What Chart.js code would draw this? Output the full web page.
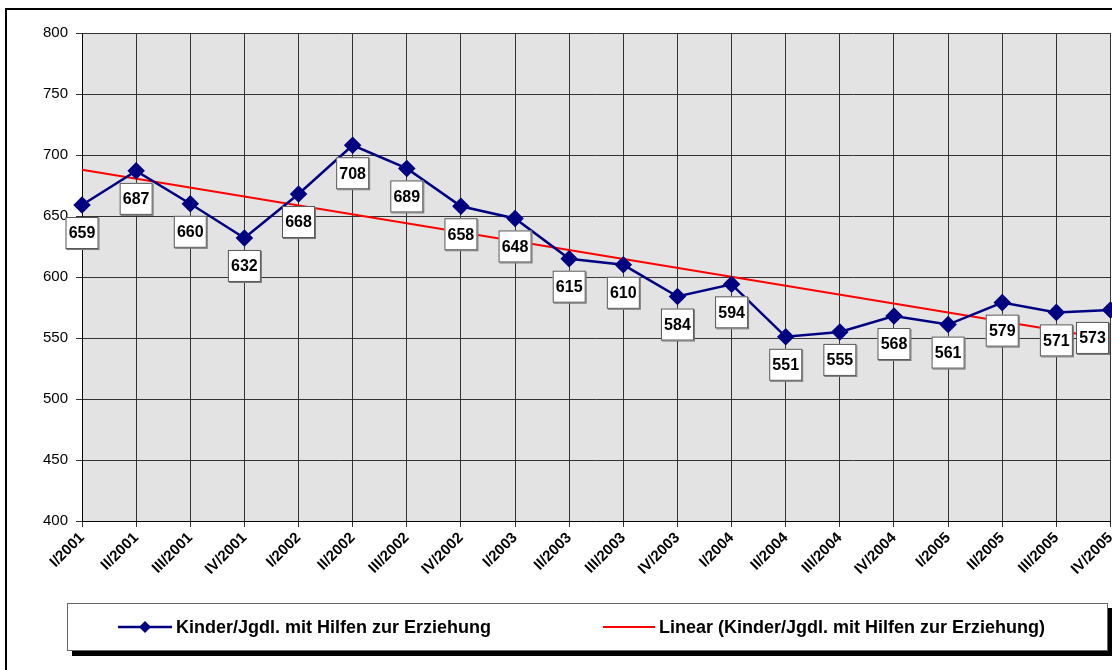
<!DOCTYPE html>
<html lang="de">
<head>
<meta charset="UTF-8" />
<title>Kinder/Jgdl. mit Hilfen zur Erziehung</title>
<style>
  body { margin: 0; background: #fff; overflow: hidden; }
  #wrap { width: 1112px; height: 670px; overflow: hidden; }
</style>
</head>
<body>
<div id="wrap"><canvas id="myChart" width="1120" height="670"></canvas></div>
<script src="https://cdn.jsdelivr.net/npm/chart.js"></script>
<script>
  // quarters
  const quarters = [
    "I/2001", "II/2001", "III/2001", "IV/2001",
    "I/2002", "II/2002", "III/2002", "IV/2002",
    "I/2003", "II/2003", "III/2003", "IV/2003",
    "I/2004", "II/2004", "III/2004", "IV/2004",
    "I/2005", "II/2005", "III/2005", "IV/2005"
  ];
  const kinder = [659, 687, 660, 632, 668, 708, 689, 658, 648, 615,
                  610, 584, 594, 551, 555, 568, 561, 579, 571, 573];
  // trend line, start and end value
  const trendStart = 688;
  const trendEnd = 549;
  const yTicks = [400, 450, 500, 550, 600, 650, 700, 750, 800];

  const seriesName = "Kinder/Jgdl. mit Hilfen zur Erziehung";
  const trendName = "Linear (Kinder/Jgdl. mit Hilfen zur Erziehung)";

  const trend = quarters.map((q, i) =>
    i === 0 ? trendStart : (i === quarters.length - 1 ? trendEnd : null));

  const FONT = "Arial, 'Liberation Sans', sans-serif";

  const frame = {
    id: "frame",
    beforeDraw(chart) {
      const c = chart.ctx, a = chart.chartArea;
      c.save();
      c.fillStyle = "#fff";
      c.fillRect(0, 0, chart.width, chart.height);
      c.strokeStyle = "#000";
      c.lineWidth = 2;
      c.strokeRect(6, 9, 1200, 700);
      c.fillStyle = "#e3e3e3";
      c.fillRect(a.left, a.top, a.right - a.left, a.bottom - a.top);
      c.restore();
    }
  };

  const valueLabels = {
    id: "valueLabels",
    afterDatasetsDraw(chart) {
      const c = chart.ctx, a = chart.chartArea;
      const meta = chart.getDatasetMeta(0);
      c.save();
      c.font = "bold 16px " + FONT;
      c.textAlign = "center";
      c.textBaseline = "middle";
      meta.data.forEach((pt, i) => {
        const x = Math.min(pt.x, a.right - 18);
        const y = pt.y + 28;
        const w = 33, h = 32;
        c.fillStyle = "#777";
        c.fillRect(x - w / 2 + 1, y - h / 2 + 1, w, h);
        c.fillStyle = "#fff";
        c.fillRect(x - w / 2, y - h / 2, w, h);
        c.strokeStyle = "#555";
        c.lineWidth = 1;
        c.strokeRect(x - w / 2 + 0.5, y - h / 2 + 0.5, w - 1, h - 1);
        c.fillStyle = "#000";
        c.fillText(String(kinder[i]), x, y + 1);
      });
      c.restore();
    }
  };

  const legendBox = {
    id: "legendBox",
    afterDraw(chart) {
      const c = chart.ctx;
      const x = 67, y = 603, w = 1041, h = 48;
      c.save();
      c.fillStyle = "#000";
      c.fillRect(x + 5, y + 5, w, h);
      c.fillStyle = "#fff";
      c.fillRect(x, y, w, h);
      c.strokeStyle = "#666";
      c.lineWidth = 1;
      c.strokeRect(x + 0.5, y + 0.5, w - 1, h - 1);

      const ly = y + 24;
      // series sample
      c.strokeStyle = "#000080";
      c.lineWidth = 2.5;
      c.beginPath(); c.moveTo(118, ly); c.lineTo(172, ly); c.stroke();
      c.fillStyle = "#000080";
      c.beginPath();
      c.moveTo(145, ly - 6); c.lineTo(151, ly); c.lineTo(145, ly + 6); c.lineTo(139, ly);
      c.closePath(); c.fill();
      // trend sample
      c.strokeStyle = "#ff0000";
      c.lineWidth = 2;
      c.beginPath(); c.moveTo(603, ly); c.lineTo(655, ly); c.stroke();

      c.fillStyle = "#000";
      c.font = "bold 18px " + FONT;
      c.textAlign = "left";
      c.textBaseline = "middle";
      c.fillText(seriesName, 176, ly + 1);
      c.fillText(trendName, 659, ly + 1);
      c.restore();
    }
  };

  const ctx = document.getElementById("myChart").getContext("2d");
  const myChart = new Chart(ctx, {
    type: "line",
    data: {
      labels: quarters,
      datasets: [
        {
          label: seriesName,
          data: kinder,
          borderColor: "#000080",
          backgroundColor: "#000080",
          borderWidth: 2.5,
          pointStyle: "rectRot",
          pointRadius: 7,
          pointHoverRadius: 7,
          tension: 0,
          order: 1
        },
        {
          label: trendName,
          data: trend,
          spanGaps: true,
          borderColor: "#ff0000",
          borderWidth: 2,
          pointRadius: 0,
          tension: 0,
          order: 2
        }
      ]
    },
    options: {
      responsive: false,
      animation: false,
      layout: { padding: { left: 0, top: 33, right: 0, bottom: 0 } },
      plugins: {
        legend: { display: false },
        tooltip: { enabled: false }
      },
      scales: {
        x: {
          offset: false,
          grid: { color: "#333", tickLength: 6, lineWidth: 1 },
          border: { color: "#000" },
          ticks: {
            autoSkip: false,
            maxRotation: 45,
            minRotation: 45,
            padding: 2,
            color: "#000",
            font: { family: FONT, size: 15, weight: "bold" }
          },
          afterFit(scale) {
            scale.height = 149;
            scale.paddingLeft = 0;
            scale.paddingRight = 0;
          }
        },
        y: {
          min: 400,
          max: 800,
          grid: { color: "#333", tickLength: 6, lineWidth: 1 },
          border: { color: "#000" },
          afterBuildTicks(scale) { scale.ticks = yTicks.map(v => ({ value: v })); },
          ticks: {
            padding: 8,
            color: "#000",
            font: { family: FONT, size: 15 }
          },
          afterFit(scale) {
            scale.width = 82;
            scale.paddingTop = 0;
            scale.paddingBottom = 0;
          }
        }
      }
    },
    plugins: [frame, valueLabels, legendBox]
  });
</script>
</body>
</html>
